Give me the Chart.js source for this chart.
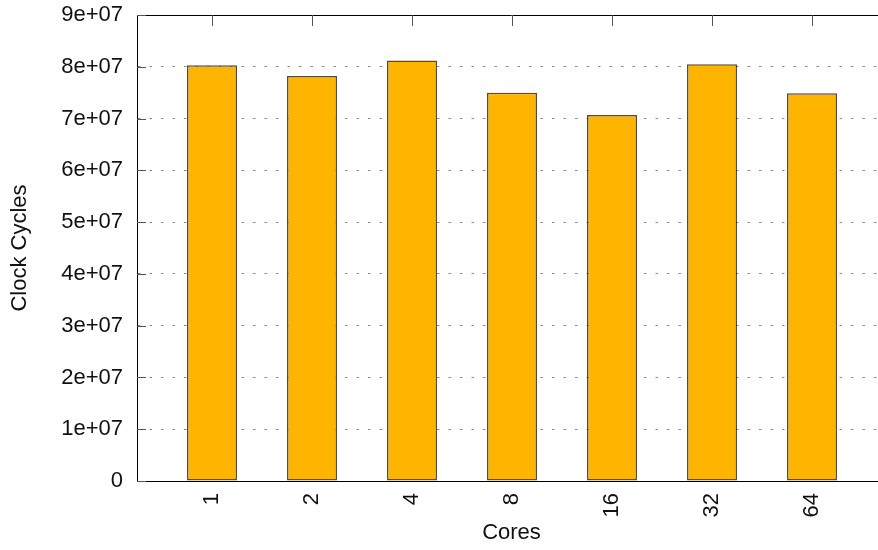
<!DOCTYPE html>
<html>
<head>
<meta charset="utf-8">
<script src="https://cdn.jsdelivr.net/npm/chart.js@4"></script>
<style>
  html, body { margin: 0; padding: 0; background: #fff; overflow: hidden; }
  #wrap { position: absolute; left: 0; top: 0; width: 886px; height: 550px; }
</style>
</head>
<body>
<div id="wrap"><canvas id="chart"></canvas></div>
<script>
// data
const coreLabels = ['1', '2', '4', '8', '16', '32', '64'];
const clockCycles = [8.03e7, 7.82e7, 8.12e7, 7.50e7, 7.07e7, 8.05e7, 7.49e7];
const yTickLabels = ['0', '1e+07', '2e+07', '3e+07', '4e+07', '5e+07', '6e+07', '7e+07', '8e+07', '9e+07'];

Chart.defaults.font.family = '"Liberation Sans", Arial, Helvetica, sans-serif';
Chart.defaults.font.size = 22;
Chart.defaults.color = '#111';

// gnuplot style frame: solid top border plus inward tick marks
const framePlugin = {
  id: 'frame',
  afterDatasetsDraw(chart) {
    const { ctx, chartArea: a, scales: { x, y } } = chart;
    ctx.save();
    ctx.strokeStyle = '#000';
    ctx.lineWidth = 1;
    ctx.beginPath();
    ctx.moveTo(a.left, a.top + 0.5);
    ctx.lineTo(a.right, a.top + 0.5);
    ctx.stroke();

    ctx.strokeStyle = '#555';
    ctx.beginPath();
    y.ticks.forEach(t => {
      const py = Math.round(y.getPixelForValue(t.value)) + 0.5;
      ctx.moveTo(a.left, py);
      ctx.lineTo(a.left + 9, py);
    });
    x.ticks.forEach(t => {
      const px = Math.round(x.getPixelForValue(t.value)) + 0.5;
      ctx.moveTo(px, a.top);
      ctx.lineTo(px, a.top + 11);
    });
    ctx.stroke();
    ctx.restore();
  }
};

new Chart(document.getElementById('chart'), {
  type: 'bar',
  data: {
    datasets: [{
      label: 'Clock Cycles',
      data: coreLabels.map((c, i) => ({ x: i, y: clockCycles[i] })),
      backgroundColor: '#ffb400',
      borderColor: 'rgba(40, 30, 10, 0.8)',
      borderWidth: 1.5,
      borderSkipped: false,
      barPercentage: 0.5,
      categoryPercentage: 1.0
    }]
  },
  options: {
    responsive: true,
    maintainAspectRatio: false,
    animation: false,
    layout: { padding: { top: 15, right: 0, bottom: 0, left: 0 } },
    plugins: {
      legend: { display: false },
      tooltip: { enabled: false }
    },
    scales: {
      x: {
        type: 'linear',
        min: -0.75,
        max: 6.74,
        offset: false,
        afterBuildTicks: (scale) => { scale.ticks = coreLabels.map((_, i) => ({ value: i })); },
        afterFit: (scale) => { scale.height = 69; },
        ticks: {
          autoSkip: false,
          minRotation: 90,
          maxRotation: 90,
          padding: 12,
          callback: (v) => coreLabels[v]
        },
        grid: { display: false, drawTicks: false, offset: false },
        border: { display: true, color: '#000', width: 1 },
        title: { display: true, text: 'Cores', padding: { top: 0, bottom: 4 } }
      },
      y: {
        min: 0,
        max: 9e7,
        afterFit: (scale) => {
          scale.width = 137;
          scale.paddingTop = 0;
          scale.paddingBottom = 0;
        },
        ticks: {
          stepSize: 1e7,
          padding: 14,
          callback: (v, i) => yTickLabels[i]
        },
        grid: { color: '#888', lineWidth: 1, drawTicks: false },
        border: { display: true, color: '#000', width: 1, dash: [2.5, 9] },
        title: { display: true, text: 'Clock Cycles', padding: { top: 7, bottom: 0 } }
      }
    }
  },
  plugins: [framePlugin]
});
</script>
</body>
</html>
